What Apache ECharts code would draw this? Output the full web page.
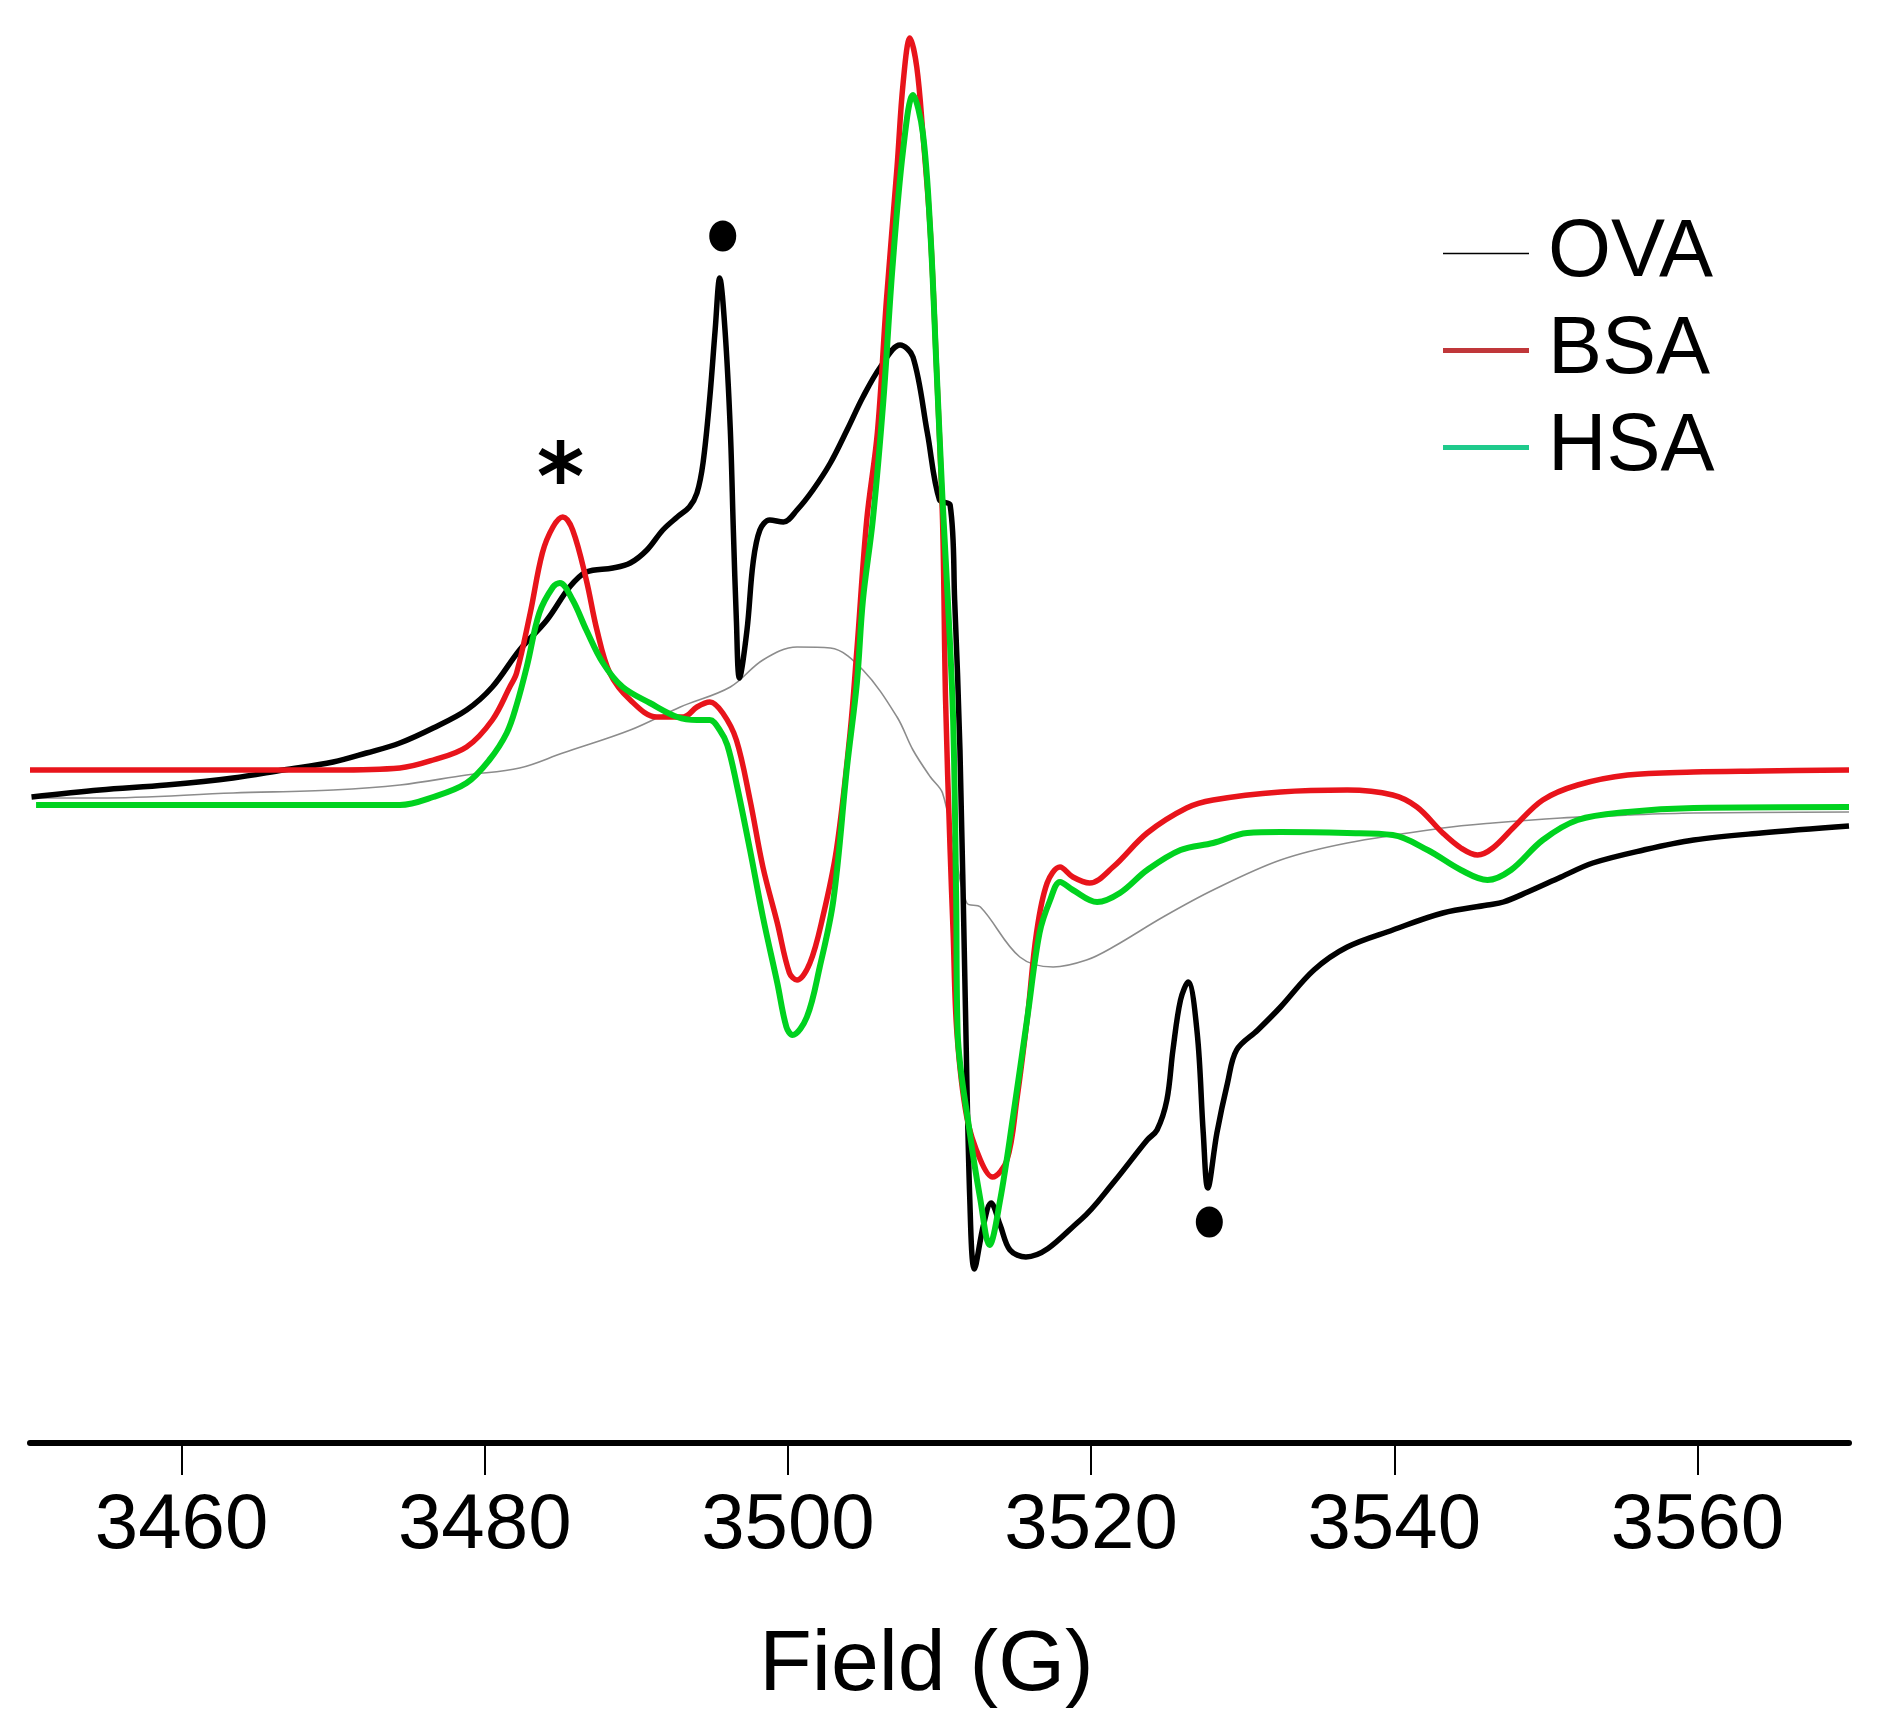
<!DOCTYPE html>
<html>
<head>
<meta charset="utf-8">
<title>EPR spectra</title>
<script src="https://cdn.jsdelivr.net/npm/echarts@6/dist/echarts.min.js"></script>
<style>
html,body{margin:0;padding:0;background:#fff;}
#main{width:1881px;height:1731px;}
</style>
</head>
<body>
<div id="main"></div>
<script>
// tick positions on the field axis (G)
var fieldTicks = [3460, 3480, 3500, 3520, 3540, 3560];

// [field (G), signal (arb. units)]
var ova = [
	[3450.1,64.6],[3454.6,65.3],[3459.0,65.8],[3463.4,66.5],[3466.7,67.3],[3470.0,68.1],[3472.2,69.0],
	[3474.4,70.0],[3476.6,71.5],[3478.8,73.3],[3480.5,75.6],[3482.3,79.3],[3484.1,82.3],[3485.6,85.6],
	[3486.7,87.1],[3488.45,87.5],[3489.6,88.0],[3490.7,89.3],[3491.75,91.3],[3492.7,92.6],[3493.5,93.6],
	[3494.0,95.0],[3494.4,98.0],[3494.85,104.6],[3495.2,111.3],[3495.5,116.5],[3495.85,111.3],[3496.2,101.3],
	[3496.4,91.3],[3496.6,82.3],[3496.8,76.5],[3497.3,81.3],[3497.7,88.0],[3498.15,91.3],[3498.8,92.3],
	[3499.7,92.1],[3500.6,93.3],[3501.65,95.3],[3502.8,98.0],[3503.9,101.3],[3504.95,104.6],[3506.1,107.6],
	[3507.4,109.8],[3508.25,108.6],[3509.2,101.0],[3510.0,94.3],[3510.7,93.8],[3511.0,84.3],[3511.35,69.3],
	[3511.7,44.3],[3512.0,24.3],[3512.3,17.4],[3512.9,21.8],[3513.4,24.0],[3514.0,21.8],[3514.65,19.3],
	[3515.7,18.6],[3519.3,22.3],[3521.45,26.0],[3523.7,30.3],[3524.35,31.3],[3525.0,34.3],[3525.4,39.3],
	[3525.9,44.3],[3526.4,46.1],[3527.0,41.0],[3527.4,31.0],[3527.7,25.5],[3528.3,31.0],[3529.0,36.0],
	[3529.6,39.3],[3531.0,41.3],[3532.5,43.6],[3534.7,47.3],[3536.9,49.6],[3539.9,51.3],[3543.2,53.0],
	[3546.15,53.8],[3547.2,54.1],[3548.8,55.1],[3551.0,56.6],[3553.1,58.0],[3556.45,59.3],[3559.75,60.3],
	[3564.2,61.0],[3570.0,61.7]
];

var bsa = [
	[3450.0,67.3],[3461.2,67.3],[3470.0,67.3],[3474.4,67.5],[3476.6,68.3],[3478.8,69.6],[3480.5,72.3],
	[3481.65,75.6],[3482.1,77.0],[3483.0,83.0],[3483.8,89.0],[3484.5,91.6],[3485.15,92.6],[3485.8,91.3],
	[3486.7,86.3],[3487.4,81.3],[3488.25,77.0],[3489.6,74.3],[3491.35,72.6],[3493.1,72.6],[3494.0,73.6],
	[3494.85,74.1],[3495.7,73.0],[3496.6,70.3],[3497.5,64.3],[3498.35,57.6],[3499.3,52.0],[3500.1,47.0],
	[3500.6,46.3],[3501.45,48.0],[3502.3,52.6],[3503.2,59.3],[3504.1,71.0],[3504.55,79.3],[3505.2,92.3],
	[3505.9,101.0],[3506.5,114.3],[3507.2,127.6],[3507.6,136.0],[3508.05,140.5],[3508.5,137.6],[3508.9,131.0],
	[3509.4,121.0],[3509.8,107.6],[3510.2,92.3],[3510.4,74.3],[3510.7,59.3],[3510.9,51.0],[3511.15,41.0],
	[3511.8,32.6],[3512.7,28.3],[3513.5,26.6],[3514.45,28.3],[3515.1,34.3],[3515.8,42.6],[3516.4,51.0],
	[3517.1,56.0],[3517.95,57.6],[3518.8,56.6],[3519.9,56.0],[3521.45,57.6],[3523.7,61.0],[3526.3,63.5],
	[3528.05,64.3],[3532.5,65.1],[3536.9,65.3],[3539.9,64.8],[3541.5,63.6],[3543.2,61.0],[3544.4,59.5],
	[3545.5,58.8],[3546.5,59.5],[3547.9,61.6],[3549.8,64.3],[3552.1,65.8],[3555.4,66.8],[3559.75,67.1],
	[3564.2,67.2],[3570.0,67.3]
];

var hsa = [
	[3450.4,63.8],[3461.2,63.8],[3474.4,63.8],[3476.6,64.6],[3478.8,66.0],[3480.3,68.3],[3481.45,71.0],
	[3482.1,73.8],[3482.8,77.8],[3483.6,83.0],[3484.5,85.6],[3484.95,86.0],[3485.8,84.3],[3486.7,81.3],
	[3487.8,78.0],[3489.1,75.6],[3490.9,74.0],[3492.7,72.6],[3494.0,72.3],[3494.85,72.3],[3495.5,71.3],
	[3496.0,69.8],[3496.6,66.0],[3497.5,59.3],[3498.35,52.6],[3499.3,46.0],[3499.9,41.6],[3500.3,40.8],
	[3501.25,42.6],[3502.1,47.6],[3503.0,54.3],[3503.9,67.6],[3504.55,76.0],[3504.95,84.3],[3505.6,92.3],
	[3506.3,104.3],[3506.9,117.6],[3507.6,129.3],[3508.25,134.8],[3508.9,131.0],[3509.4,121.0],[3509.8,107.6],
	[3510.2,94.3],[3510.55,84.3],[3510.9,72.3],[3511.1,54.3],[3511.2,41.0],[3512.0,31.0],[3512.7,24.3],
	[3513.3,19.8],[3514.0,24.3],[3514.85,32.6],[3515.8,42.6],[3516.6,51.0],[3517.3,54.3],[3517.95,56.1],
	[3518.8,55.3],[3520.4,54.1],[3521.9,55.0],[3523.7,57.3],[3525.9,59.3],[3528.05,60.0],[3530.3,61.0],
	[3532.5,61.1],[3536.9,61.0],[3539.9,60.8],[3542.2,59.3],[3544.4,57.3],[3546.15,56.3],[3547.7,57.3],
	[3549.8,60.3],[3552.1,62.3],[3555.4,63.1],[3559.75,63.5],[3570.0,63.6]
];

// thin grey trace (no legend entry)
var greyTrace = [
	[3450.4,64.5],[3454.6,64.5],[3463.4,65.0],[3470.0,65.3],[3474.4,65.8],[3478.8,66.8],[3482.3,67.5],
	[3485.15,69.0],[3489.6,71.3],[3492.9,73.6],[3496.2,75.6],[3498.35,78.3],[3500.6,79.6],[3502.8,79.5],
	[3504.95,77.3],[3507.2,72.6],[3508.25,69.3],[3509.4,66.6],[3510.2,65.0],[3511.0,59.3],[3511.8,54.0],
	[3512.7,53.6],[3515.3,48.6],[3517.5,47.6],[3519.7,48.3],[3521.45,49.6],[3524.75,52.6],[3528.05,55.3],
	[3532.5,58.3],[3536.9,60.0],[3543.2,61.5],[3546.5,62.0],[3551.0,62.5],[3555.4,62.8],[3559.75,63.0],
	[3570.0,63.1]
];

// marker positions
var dotMarks = [[3495.7,120.7],[3527.8,22.1]];
var starMarks = [[3485.0,98.1]];

var fontFam = '"Liberation Sans", Arial, sans-serif';
var starPath = 'path://M42,0L58,0L58,100L42,100Z' +
	'M2.7,31.93L10.7,18.07L97.3,68.07L89.3,81.93Z' +
	'M10.7,81.93L2.7,68.07L89.3,18.07L97.3,31.93Z';
// thin line icon for OVA legend (tiny corner dots keep the box height)
var thinIcon = 'path://M0,1.5h100v2h-100z M0,0h0.05v0.05h-0.05z M0,4.95h0.05v0.05h-0.05z';

var myChart = echarts.init(document.getElementById('main'));

var option = {
	animation: false,
	backgroundColor: '#fff',
	grid: { left: 30, right: 32, top: 3, bottom: 288 },
	legend: {
		orient: 'vertical',
		left: 1438,
		top: 208,
		itemWidth: 86,
		itemHeight: 5,
		itemGap: 16,
		textStyle: { fontSize: 81, lineHeight: 80, color: '#000', fontFamily: fontFam, padding: [0, 0, 0, 14] },
		data: [
			{ name: 'OVA', icon: thinIcon, itemStyle: { color: '#000' } },
			{ name: 'BSA', icon: 'rect', itemStyle: { color: '#c0373a' } },
			{ name: 'HSA', icon: 'rect', itemStyle: { color: '#1fca8c' } }
		]
	},
	xAxis: {
		type: 'value',
		min: 3450,
		max: 3570,
		interval: 10,
		splitLine: { show: false },
		axisLine: { onZero: false, lineStyle: { color: '#000', width: 6 } },
		axisTick: { customValues: fieldTicks, length: 32, lineStyle: { color: '#000', width: 2 } },
		axisLabel: {
			customValues: fieldTicks, margin: 44, fontSize: 78, color: '#000', fontFamily: fontFam,
			formatter: function(v) { return String(v); }
		},
		name: 'Field (G)',
		nameLocation: 'middle',
		nameGap: 180,
		nameTextStyle: { fontSize: 86, color: '#000', fontFamily: fontFam, padding: [0, 26, 0, 0] }
	},
	yAxis: {
		type: 'value',
		min: 0,
		max: 144,
		show: false
	},
	series: [
		{
			name: 'grey', type: 'line', data: greyTrace, showSymbol: false, symbol: 'none',
			smooth: 0.35,
			lineStyle: { color: '#8c8c8c', width: 1.6 }
		},
		{
			name: 'OVA', type: 'line', data: ova, showSymbol: false, symbol: 'none',
			smooth: 0.35, color: '#000',
			lineStyle: { color: '#000', width: 5.5 }
		},
		{
			name: 'BSA', type: 'line', data: bsa, showSymbol: false, symbol: 'none',
			smooth: 0.35, color: '#e8141b',
			lineStyle: { color: '#e8141b', width: 5.5 }
		},
		{
			name: 'HSA', type: 'line', data: hsa, showSymbol: false, symbol: 'none',
			smooth: 0.35, color: '#00d21f',
			lineStyle: { color: '#00d21f', width: 6 }
		},
		{
			name: 'dots', type: 'scatter', data: dotMarks, symbol: 'circle', symbolSize: [27, 31],
			itemStyle: { color: '#000', opacity: 1 }, z: 5
		},
		{
			name: 'star', type: 'scatter', data: starMarks, symbol: starPath, symbolSize: 44,
			itemStyle: { color: '#000', opacity: 1 }, z: 5
		}
	]
};
myChart.setOption(option);
</script>
</body>
</html>
